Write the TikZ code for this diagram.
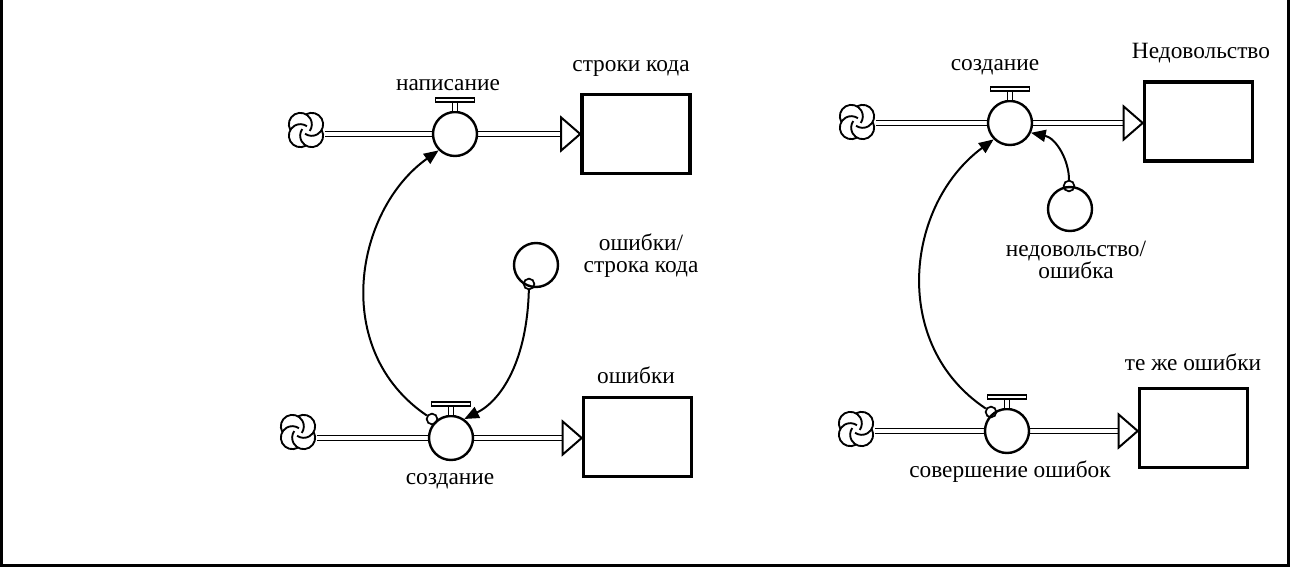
\documentclass[tikz,border=0pt]{standalone}
\usepackage{fontspec}
\setmainfont{Liberation Serif}
\usetikzlibrary{arrows.meta,calc,backgrounds}
\tikzset{
  valve/.style={circle, draw, line width=1.8pt, fill=white, minimum size=33pt, inner sep=0pt},
  auxv/.style={circle, draw, line width=1.8pt, fill=white, minimum size=33pt, inner sep=0pt},
  stock/.style={rectangle, draw, line width=2.7pt, fill=white, minimum width=81pt, minimum height=59.5pt, inner sep=0pt},
  tail/.style={circle, draw, line width=1.3pt, minimum size=8pt, inner sep=0pt},
  conn/.style={line width=1.5pt, -{Triangle[length=11pt,width=9pt]}},
  pipe/.style={double, double distance=2.4pt, line width=1.3pt},
  cloudbox/.style={circle, minimum size=28pt, inner sep=0pt},
  lbl/.style={font=\fontsize{17.5}{16.5}\selectfont, inner sep=0pt, align=center},
  srccloud/.pic={
    \foreach \k in {0,90,180,270}{
      \draw[line width=1.4pt] (\k+45:8) ++(\k-29.5:11.5) arc[start angle=\k-29.5, end angle=\k+215, radius=11.5];
    }
  }
}
\begin{document}
\begin{tikzpicture}[x=0.75pt,y=-0.75pt]
\useasboundingbox (0,0) rectangle (1290,567);
% frame
\draw[line width=2.3pt] (1.5,0) -- (1.5,565.5) -- (1288.5,565.5) -- (1288.5,0);

% clouds
\node[cloudbox] (c1) at (306,130) {};
\node[cloudbox] (c2) at (298,432) {};
\node[cloudbox] (c3) at (857,122) {};
\node[cloudbox] (c4) at (856,429) {};
\foreach \c in {c1,c2,c3,c4}{ \pic at (\c) {srccloud}; }

% stocks
\node[stock] (s1) at (636,134) {};
\node[stock] (s2) at (637.5,437) {};
\node[stock] (s3) at (1198.5,121.5) {};
\node[stock] (s4) at (1193.5,428) {};

% valves
\node[valve] (v1) at (455,134) {};
\node[valve] (v2) at (451,438) {};
\node[valve] (v3) at (1010,123) {};
\node[valve] (v4) at (1007,431) {};

% pipes (behind valves)
\begin{scope}[on background layer]
\fill[white] (0,0) rectangle (1290,567);
\foreach \c/\v/\s in {c1/v1/s1,c2/v2/s2,c3/v3/s3,c4/v4/s4}{
  \draw[pipe] (\c.east |- \v) -- ($(\s.west |- \v)+(-18,0)$);
  \draw[line width=1.5pt, fill=white, line join=miter]
    ($(\s.west |- \v)+(-19,-16.5)$) -- (\s.west |- \v) -- ($(\s.west |- \v)+(-19,16.5)$) -- cycle;
}
\end{scope}

% valve handles
\foreach \v in {v1,v2,v3,v4}{
  \draw[double, double distance=2.6pt, line width=1.1pt] (\v.north) -- ++(0,-9);
  \draw[line width=1.2pt, fill=white] ($(\v.north)+(-19.5,-9)$) rectangle ++(39,-4);
}

% auxiliaries
\node[auxv] (a1) at (536,265) {};
\node[auxv] (a2) at (1070,209) {};

% connector tails
\node[tail] (t1) at (432,419) {};
\node[tail] (t2) at (529,284) {};
\node[tail] (t3) at (991,412) {};
\node[tail] (t4) at (1069,186) {};

% connectors
\draw[conn] (t1) .. controls (330,350) and (355,210) .. (v1.225);
\draw[conn] (t2) .. controls (527,360) and (502,400) .. (v2.55);
\draw[conn] (t3) .. controls (890,345) and (905,205) .. (v3.225);
\draw[conn] (t4) .. controls (1069,160) and (1056,138) .. (v3.-25);

% labels
\node[lbl] (l1) at (448,85) {написание};
\node[lbl] (l2) at (631,68) {строки кода};
\node[lbl] (l3) at (641,256) {ошибки/\\строка кода};
\node[lbl] (l4) at (636,375) {ошибки};
\node[lbl] (l5) at (450,481) {создание};
\node[lbl] (l6) at (995,67) {создание};
\node[lbl] (l7) at (1201,53) {Недовольство};
\node[lbl] (l8) at (1076,260) {недовольство/\\ошибка};
\node[lbl] (l9) at (1193,362) {те же ошибки};
\node[lbl] (l10) at (1010,472) {совершение ошибок};
\end{tikzpicture}
\end{document}
